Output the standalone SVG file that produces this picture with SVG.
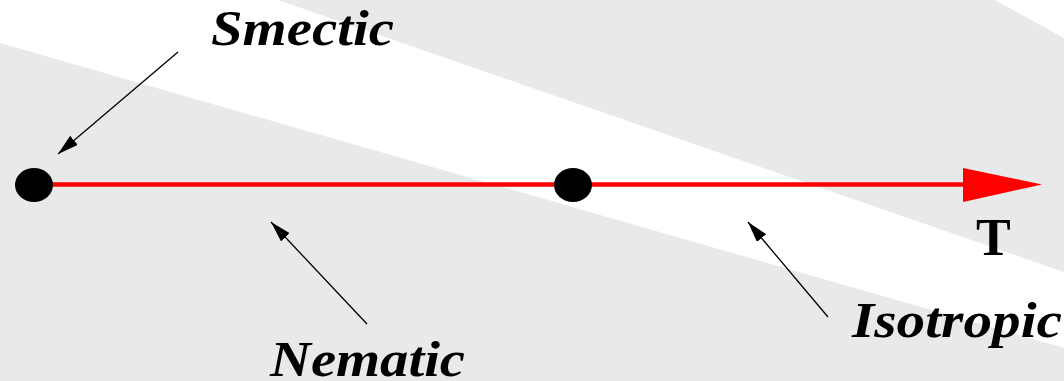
<svg xmlns="http://www.w3.org/2000/svg" width="1064" height="381" viewBox="0 0 1064 381">
  <style>
    .bg { fill: #e9e9e9; }
    .label { font-family: "Liberation Serif", "DejaVu Serif", serif; font-weight: bold; font-style: italic; font-size: 50px; fill: #000; }
    .axis { font-family: "Liberation Serif", "DejaVu Serif", serif; font-weight: bold; font-size: 52px; fill: #000; }
    .pointer { stroke: #000; stroke-width: 1.3; fill: none; marker-end: url(#head); }
    .dot { fill: #000; }
  </style>
  <defs>
    <marker id="head" viewBox="0 0 21 12" refX="21" refY="6" markerWidth="21" markerHeight="12" markerUnits="userSpaceOnUse" orient="auto">
      <path d="M0,0 L21,6 L0,12 z" fill="#000"/>
    </marker>
  </defs>
  <rect x="0" y="0" width="1064" height="381" fill="#fff"/>
  <g id="regions">
    <polygon class="bg" points="278,0 995,0 1064,38 1064,272"/>
    <polygon class="bg" points="0,43 1064,348 1064,381 0,381"/>
  </g>
  <g id="connectors">
    <line x1="34" y1="184.5" x2="965" y2="184.5" stroke="#ff0000" stroke-width="4.5"/>
    <polygon points="963,168 1042,184.5 963,202" fill="#ff0000"/>
    <line class="pointer" x1="178" y1="52" x2="58" y2="154"/>
    <line class="pointer" x1="367" y1="324" x2="271" y2="222"/>
    <line class="pointer" x1="828" y1="317" x2="748" y2="222"/>
  </g>
  <g id="smectic-point">
    <ellipse class="dot" cx="34" cy="185" rx="19" ry="17"/>
  </g>
  <g id="nematic-isotropic-point">
    <ellipse class="dot" cx="573" cy="185" rx="19" ry="17"/>
  </g>
  <g id="label-smectic">
    <text class="label" x="211" y="45" textLength="183" lengthAdjust="spacingAndGlyphs">Smectic</text>
  </g>
  <g id="label-nematic">
    <text class="label" x="270" y="376" textLength="195" lengthAdjust="spacingAndGlyphs">Nematic</text>
  </g>
  <g id="label-isotropic">
    <text class="label" x="852" y="337" textLength="210" lengthAdjust="spacingAndGlyphs">Isotropic</text>
  </g>
  <g id="label-t">
    <text class="axis" x="976" y="255">T</text>
  </g>
</svg>
